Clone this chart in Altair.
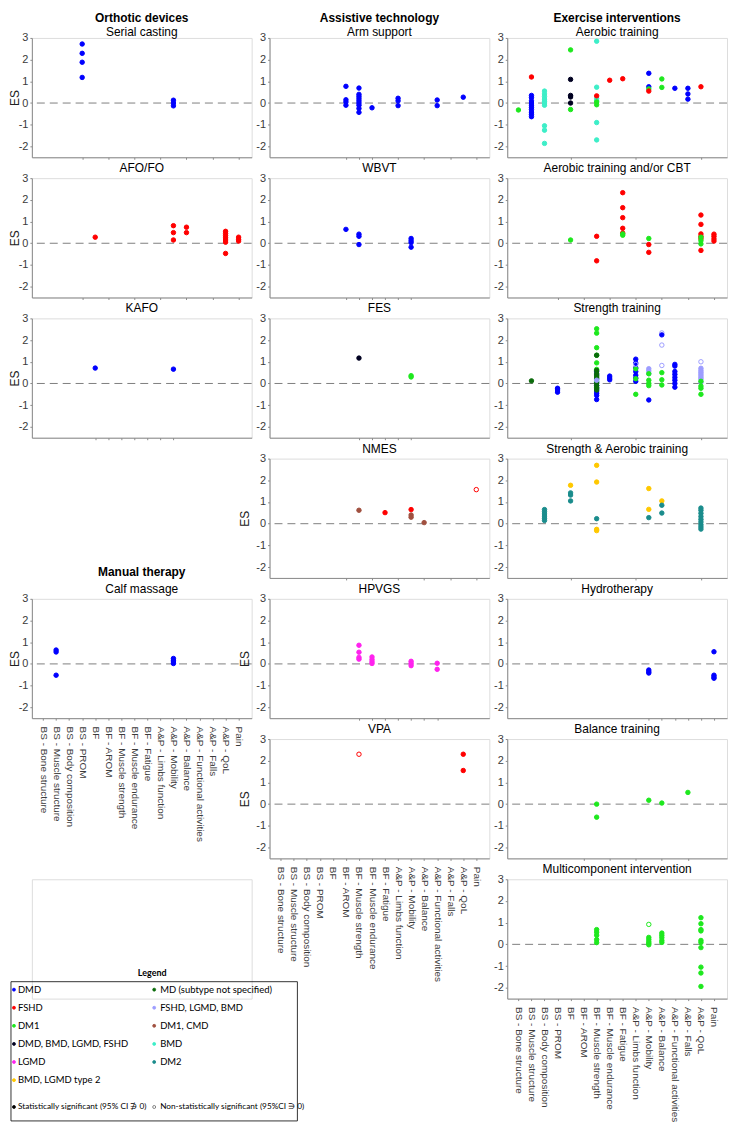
import altair as alt
import pandas as pd

OUTCOMES = ["BS - Bone structure", "BS - Muscle structure", "BS - Body composition", "BS - PROM",
            "BF", "BF - AROM", "BF - Muscle strength", "BF - Muscle endurance", "BF - Fatigue",
            "A&P - Limbs function", "A&P - Mobility", "A&P - Balance", "A&P - Functional activities",
            "A&P - Falls", "A&P - QoL", "Pain"]

GROUPS = ["DMD", "FSHD", "DM1", "DMD, BMD, LGMD, FSHD", "LGMD", "BMD, LGMD type 2",
          "MD (subtype not specified)", "FSHD, LGMD, BMD", "DM1, CMD", "BMD", "DM2"]
GROUP_COLORS = ["#0000ff", "#ff0000", "#1ee81e", "#000020", "#ff22ee", "#ffc800",
                "#0b6b0b", "#9d9dff", "#a0503f", "#3deec8", "#1a8c8c"]
COLOR_OF = dict(zip(GROUPS, GROUP_COLORS))

# (outcome index 1-16, group, effect sizes, statistically significant)
SERIAL_CASTING = [(4, "DMD", [2.72, 2.29, 1.88, 1.18], True), (11, "DMD", [0.13, 0.0, -0.13], True)]
AFO_FO = [(5, "FSHD", [0.28], True), (11, "FSHD", [0.81, 0.49, 0.15], True), (12, "FSHD", [0.74, 0.49], True),
          (15, "FSHD", [0.55, 0.45, 0.35, 0.25, 0.15, 0.05, -0.47], True), (16, "FSHD", [0.28, 0.18, 0.1], True)]
KAFO = [(5, "DMD", [0.71], True), (11, "DMD", [0.66], True)]
CALF_MASSAGE = [(2, "DMD", [0.64, 0.55, -0.52], True), (11, "DMD", [0.25, 0.17, 0.09, 0.02], True)]

ARM_SUPPORT = [(6, "DMD", [0.77, 0.15, 0.05, -0.1], True),
               (7, "DMD", [0.69, 0.4, 0.3, 0.2, 0.1, 0.0, -0.1, -0.25, -0.43], True),
               (8, "DMD", [-0.22], True), (10, "DMD", [0.22, 0.1, -0.12], True),
               (13, "DMD", [0.14, -0.12], True), (15, "DMD", [0.27], True)]
WBVT = [(6, "DMD", [0.64], True), (7, "DMD", [0.42, 0.32, -0.06], True), (11, "DMD", [0.22, 0.12, 0.03, -0.18], True)]
FES = [(7, "DMD, BMD, LGMD, FSHD", [1.17], True), (11, "DM1", [0.36, 0.3], True)]
NMES = [(7, "DM1, CMD", [0.62], True), (9, "FSHD", [0.51], True), (11, "FSHD", [0.65], True),
        (11, "DM1, CMD", [0.4, 0.3], True), (12, "DM1, CMD", [0.05], True), (16, "FSHD", [1.57], False)]
HPVGS = [(7, "LGMD", [0.86, 0.54, 0.3, 0.22], True), (8, "LGMD", [0.32, 0.2, 0.1, 0.02], True),
         (11, "LGMD", [0.12, 0.02, -0.08], True), (13, "LGMD", [0.03, -0.25], True)]
VPA = [(7, "FSHD", [2.3], False), (15, "FSHD", [2.3, 1.55], True)]

AEROBIC = [(1, "DM1", [-0.32], True), (2, "FSHD", [1.2], True),
           (2, "DMD", [0.35, 0.25, 0.1, 0.0, -0.1, -0.2, -0.3, -0.42, -0.52, -0.63], True),
           (3, "BMD", [0.55, 0.42, 0.3, 0.18, 0.08, 0.0, -0.1, -1.05, -1.25, -1.86], True),
           (5, "DM1", [2.45, -0.3], True), (5, "DMD, BMD, LGMD, FSHD", [1.09, 0.35, 0.28, 0.0], True),
           (7, "BMD", [2.85, 0.73, 0.2, 0.1, -0.9, -1.7], True), (7, "FSHD", [0.33], True),
           (7, "DM1", [0.05, -0.08], True), (8, "FSHD", [1.05], True), (9, "FSHD", [1.12], True),
           (11, "DMD", [1.37, 0.75], True), (11, "DM1", [0.65], True), (11, "FSHD", [0.55], True),
           (12, "DM1", [1.11, 0.72], True), (13, "DMD", [0.68], True), (14, "DMD", [0.68, 0.42, 0.18], True),
           (15, "FSHD", [0.75], True)]
AEROBIC_CBT = [(5, "DM1", [0.15], True), (7, "FSHD", [0.32, -0.81], True),
               (9, "FSHD", [2.33, 1.64, 1.18, 0.69, 0.47], True), (9, "DM1", [0.43, 0.37], True),
               (11, "FSHD", [-0.06, -0.42], True), (11, "DM1", [0.22], True),
               (15, "FSHD", [1.3, 0.87, 0.43, 0.32, 0.21, -0.33], True), (15, "DM1", [0.28, 0.12, -0.03], True),
               (16, "FSHD", [0.42, 0.32, 0.2, 0.1], True)]
STRENGTH = [(2, "MD (subtype not specified)", [0.12], True), (4, "DMD", [-0.22, -0.3, -0.4], True),
            (7, "DMD", [0.55, 0.4, 0.2, 0.05, -0.1, -0.25, -0.35, -0.45, -0.55, -0.74], True),
            (7, "DM1", [2.52, 2.32, 1.65, 1.3, 0.95, 0.65, 0.3, 0.1, -0.2], True),
            (7, "MD (subtype not specified)", [1.3, 0.6, 0.45, 0.35, 0.25, 0.0, -0.1, -0.2, -0.3], True),
            (7, "FSHD, LGMD, BMD", [0.15], True), (8, "DMD", [0.34, 0.25, 0.17], True),
            (10, "DMD", [1.12, 0.94, 0.72, 0.55, 0.38, 0.25, 0.1], True), (10, "DM1", [0.68, 0.22, -0.5], True),
            (10, "FSHD, LGMD, BMD", [0.88], False), (11, "FSHD, LGMD, BMD", [0.68, 0.58, 0.45], True),
            (11, "DM1", [0.45, 0.15, 0.0, -0.1], True), (11, "DMD", [-0.76], True),
            (12, "FSHD, LGMD, BMD", [2.33, 1.77, 0.83], False), (12, "DMD", [2.24], True),
            (12, "DM1", [0.5, 0.17, -0.07], True), (13, "DMD", [0.88, 0.8, 0.55, 0.42, 0.28, 0.15, 0.0, -0.17], True),
            (15, "FSHD, LGMD, BMD", [0.7, 0.6, 0.52, 0.44, 0.36, 0.28, 0.2, 0.05], True),
            (15, "DM1", [0.1, -0.12, -0.22, -0.5], True), (15, "FSHD, LGMD, BMD", [1.0], False)]
STRENGTH_AEROBIC = [(3, "DM2", [0.65, 0.55, 0.45, 0.35, 0.25, 0.15], True),
                    (5, "BMD, LGMD type 2", [1.77], True), (5, "DM2", [1.42, 1.32, 1.05], True),
                    (7, "BMD, LGMD type 2", [2.69, 1.92, -0.26, -0.32], True), (7, "DM2", [0.23], True),
                    (11, "BMD, LGMD type 2", [1.62, 0.66], True), (11, "DM2", [0.28], True),
                    (12, "BMD, LGMD type 2", [1.05], True), (12, "DM2", [0.85, 0.49], True),
                    (15, "DM2", [0.72, 0.62, 0.48, 0.33, 0.2, 0.08, -0.05, -0.15, -0.25], True)]
HYDROTHERAPY = [(11, "DMD", [-0.28, -0.36, -0.42], True), (16, "DMD", [0.56, -0.52, -0.6, -0.66], True)]
BALANCE = [(7, "DM1", [0.0, -0.6], True), (11, "DM1", [0.18], True), (12, "DM1", [0.05], True), (14, "DM1", [0.54], True)]
MULTICOMPONENT = [(7, "DM1", [0.68, 0.56, 0.42, 0.22, 0.08], True), (11, "DM1", [0.92], False),
                  (11, "DM1", [0.32, 0.22, 0.12, 0.05, -0.02], True),
                  (12, "DM1", [0.52, 0.42, 0.31, 0.18, 0.09], True),
                  (15, "DM1", [1.23, 0.95, 0.68, 0.62, 0.18, 0.09, -0.15, -1.05, -1.32, -1.94], True)]

LEG_LEFT = ["DMD", "FSHD", "DM1", "DMD, BMD, LGMD, FSHD", "LGMD", "BMD, LGMD type 2"]
LEG_RIGHT = ["MD (subtype not specified)", "FSHD, LGMD, BMD", "DM1, CMD", "BMD", "DM2"]
SIG_LABELS = ["Statistically significant  (95% CI \u220c 0)", "Non-statistically significant (95%CI \u220b 0)"]

FONT = "Liberation Sans"
AX = "#8a8a8a"
LBL = "#3a3a3a"
W, H = 221, 120
XS = alt.Scale(domain=[0.14, 17], nice=False, zero=False)
YS = alt.Scale(domain=[-2.5, 3], nice=False, zero=False)
LABEL_EXPR = "[" + ",".join("'%s'" % o for o in OUTCOMES) + "][datum.value - 1]"


def frame(rows):
    recs = []
    for cat, grp, vals, sig in rows:
        c = COLOR_OF[grp]
        for v in vals:
            recs.append(dict(cat=cat, es=v, group=grp, stroke=c, fill=c if sig else "transparent"))
    return pd.DataFrame(recs)


def label_layer(text, y, bold, baseline):
    return alt.Chart(pd.DataFrame({"t": [text]})).mark_text(
        font=FONT, fontSize=12, fontWeight="bold" if bold else "normal", color="black",
        baseline=baseline, align="center").encode(x=alt.value(W / 2), y=alt.value(y), text="t:N")


def panel(rows, title, header=None, es=False, es_x=-18, ticks=None, labels=False, manual=None):
    df = frame(rows)
    xaxis = alt.Axis(values=list(range(1, 17)) if labels else ticks, labels=labels, labelExpr=LABEL_EXPR,
                     labelAngle=90, labelFontSize=10, labelPadding=6, labelColor=LBL, labelFont=FONT,
                     labelOverlap=False, title=None, grid=False, domainColor=AX, tickColor=AX, tickSize=2)
    yargs = dict(values=[-2, -1, 0, 1, 2, 3], labelExpr="'' + datum.value", labelFontSize=11, labelColor=LBL,
                 labelFont=FONT, labelPadding=2, grid=False, domainColor=AX, tickColor=AX, tickSize=2)
    if es:
        yaxis = alt.Axis(title="ES", titleX=es_x, titleY=H / 2, titleFontSize=12, titleFontWeight="normal",
                         titleColor="#222222", titleFont=FONT, **yargs)
    else:
        yaxis = alt.Axis(title=None, **yargs)
    rule = alt.Chart(pd.DataFrame({"es": [0.0]})).mark_rule(color="#7f7f7f", strokeDash=[8, 5], strokeWidth=1).encode(
        y=alt.Y("es:Q", scale=YS, axis=yaxis))
    pts = alt.Chart(df).mark_point(shape="circle", size=20, filled=True, opacity=1, strokeWidth=1).encode(
        x=alt.X("cat:Q", scale=XS, axis=xaxis),
        y=alt.Y("es:Q", scale=YS, axis=yaxis),
        fill=alt.Fill("fill:N", scale=None),
        stroke=alt.Stroke("stroke:N", scale=None))
    layers = [rule, pts]
    props = dict(width=W, height=H)
    if header:
        layers.append(label_layer(header, -25, True, "top"))
        layers.append(label_layer(title, -5.5, False, "middle"))
    elif manual:
        props["title"] = alt.TitleParams(text=manual, subtitle=title, fontSize=12, fontWeight="bold", font=FONT,
                                         color="black", subtitleFont=FONT, subtitleFontSize=12,
                                         subtitleColor="black", subtitleFontWeight="normal", subtitlePadding=5,
                                         offset=-3, anchor="middle", frame="group")
    else:
        props["title"] = alt.TitleParams(text=title, fontSize=12, fontWeight="normal", font=FONT, color="black",
                                         offset=-3, anchor="middle", frame="group")
    return alt.layer(*layers).properties(**props)


def spacer():
    return alt.Chart(pd.DataFrame({"t": [""]})).mark_text().encode(text="t:N").properties(width=W, height=H)


def legend_panel():
    # legend layout in page-like pixels, converted to the cell's own frame (cell origin at 29, 882)
    ox, oy = 29, 882
    dot_x = [11 - ox, 152 - ox]
    txt_x = [15 - ox, 158 - ox]
    row_y = [993 + 18.2 * r - oy for r in range(6)]
    sig_y = 1111 - oy
    items = []
    for r, g in enumerate(LEG_LEFT):
        items.append(dict(x=dot_x[0], tx=txt_x[0], y=row_y[r], label=g, stroke=COLOR_OF[g], fill=COLOR_OF[g], fs=9.5))
    for r, g in enumerate(LEG_RIGHT):
        items.append(dict(x=dot_x[1], tx=txt_x[1], y=row_y[r], label=g, stroke=COLOR_OF[g], fill=COLOR_OF[g], fs=9.5))
    items.append(dict(x=dot_x[0], tx=txt_x[0], y=sig_y, label=SIG_LABELS[0], stroke="#000000", fill="#000000", fs=8.3))
    items.append(dict(x=dot_x[1], tx=txt_x[1], y=sig_y, label=SIG_LABELS[1], stroke="#666666", fill="transparent", fs=8.3))
    idf = pd.DataFrame(items)
    lx = alt.Scale(domain=[0, W], nice=False, zero=False)
    ly = alt.Scale(domain=[0, H], nice=False, zero=False, reverse=True)
    box = alt.Chart(pd.DataFrame({"x": [8 - ox], "x2": [296 - ox], "y": [985 - oy], "y2": [1125 - oy]})).mark_rect(
        fillOpacity=0, stroke="#000000", strokeWidth=0.8).encode(
        x=alt.X("x:Q", scale=lx, axis=None), x2="x2:Q", y=alt.Y("y:Q", scale=ly, axis=None), y2="y2:Q")
    ttl = alt.Chart(pd.DataFrame({"x": [150 - ox], "y": [976 - oy], "t": ["Legend"]})).mark_text(
        font="Lato", fontSize=9, fontWeight="bold", color="#000000").encode(
        x=alt.X("x:Q", scale=lx, axis=None), y=alt.Y("y:Q", scale=ly, axis=None), text="t:N")
    dots = alt.Chart(idf).mark_point(shape="circle", size=9, filled=True, opacity=1, strokeWidth=0.8).encode(
        x=alt.X("x:Q", scale=lx, axis=None), y=alt.Y("y:Q", scale=ly, axis=None),
        fill=alt.Fill("fill:N", scale=None), stroke=alt.Stroke("stroke:N", scale=None))
    txt = alt.Chart(idf).mark_text(font="Lato", align="left", baseline="middle", color="#000000").encode(
        x=alt.X("tx:Q", scale=lx, axis=None), y=alt.Y("y:Q", scale=ly, axis=None), text="label:N",
        size=alt.Size("fs:Q", scale=None))
    return alt.layer(box, ttl, dots, txt).properties(width=W, height=H)


cells = [
    panel(SERIAL_CASTING, "Serial casting", header="Orthotic devices", es=True, es_x=-10, ticks=[4, 6, 8, 10, 12, 14, 16]),
    panel(ARM_SUPPORT, "Arm support", header="Assistive technology", ticks=[6, 7, 8, 10, 12, 14, 16]),
    panel(AEROBIC, "Aerobic training", header="Exercise interventions", ticks=[5, 10, 15]),
    panel(AFO_FO, "AFO/FO", es=True, es_x=-10, ticks=[4, 6, 8, 10, 12, 14, 16]),
    panel(WBVT, "WBVT", ticks=[6, 7, 8, 9, 10, 11]),
    panel(AEROBIC_CBT, "Aerobic training and/or CBT", ticks=[4, 6, 8, 10, 12, 14, 16]),
    panel(KAFO, "KAFO", es=True, es_x=-10, ticks=[5, 6, 7, 8, 9, 10, 11]),
    panel(FES, "FES", ticks=[7, 8, 9, 10, 11]),
    panel(STRENGTH, "Strength training", ticks=[5, 10, 15]),
    spacer(),
    panel(NMES, "NMES", es=True, es_x=-18, ticks=[6, 8, 10, 12, 14, 16]),
    panel(STRENGTH_AEROBIC, "Strength & Aerobic training", ticks=[5, 10, 15]),
    panel(CALF_MASSAGE, "Calf massage", manual="Manual therapy", es=True, es_x=-10, labels=True),
    panel(HPVGS, "HPVGS", es=True, es_x=-18, ticks=[7, 8, 9, 10, 11, 12, 13]),
    panel(HYDROTHERAPY, "Hydrotherapy", ticks=[11, 12, 13, 14, 15, 16]),
    spacer(),
    panel(VPA, "VPA", es=True, es_x=-18, labels=True),
    panel(BALANCE, "Balance training", ticks=[6, 8, 10, 12, 14]),
    legend_panel(),
    spacer(),
    panel(MULTICOMPONENT, "Multicomponent intervention", labels=True),
]

chart = alt.concat(*cells, columns=3, spacing={"row": 21, "column": 18}, bounds="flush").properties(
    padding={"left": 0, "top": 0, "right": 0, "bottom": 0}
).configure_view(stroke=None).configure(font=FONT)

chart.save("out.html", embed_options={"renderer": "svg", "actions": False})
